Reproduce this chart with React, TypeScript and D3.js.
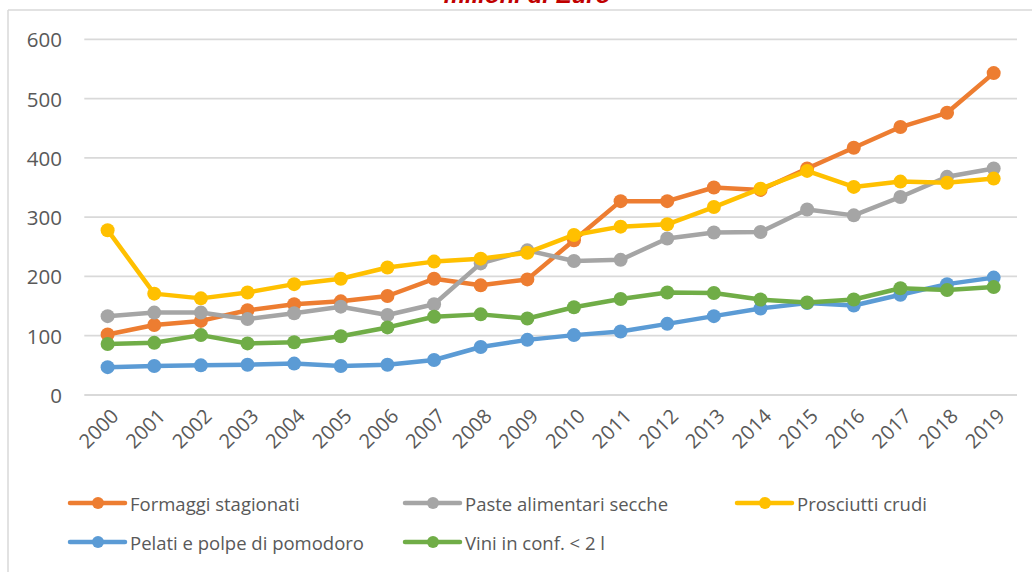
import React from "react";
import * as d3 from "d3";

const years = ["2000","2001","2002","2003","2004","2005","2006","2007","2008","2009","2010","2011","2012","2013","2014","2015","2016","2017","2018","2019"];

const formaggi = [102,118,125,143,153,158,167,196,185,195,261,327,327,350,346,382,417,452,476,543];
const paste = [133,139,139,128,138,149,135,153,222,244,226,228,264,274,275,313,303,334,368,382];
const prosciutti = [278,171,163,173,187,196,215,225,230,240,270,284,288,317,348,378,351,360,358,365];
const pelati = [47,49,50,51,53,49,51,59,81,93,101,107,120,133,146,155,151,169,187,198];
const vini = [86,88,101,87,89,99,114,132,136,129,148,162,173,172,161,156,161,180,177,182];

const seriesNames = ["Formaggi stagionati","Paste alimentari secche","Prosciutti crudi","Pelati e polpe di pomodoro","Vini in conf. < 2 l"];
const seriesValues = [formaggi, paste, prosciutti, pelati, vini];
const seriesColors = ["#ED7D31","#A5A5A5","#FFC000","#5B9BD5","#70AD47"];
const yTicks = [0,100,200,300,400,500,600];
const title = "milioni di Euro";

const legendPos = [[70,503],[405,503],[737,503],[70,542],[405,542]];

export default function App() {
  const W = 1032, H = 572;
  const x = d3.scaleBand<string>().domain(years).range([84.3, 1017]);
  const cx = (yr: string) => (x(yr) as number) + x.bandwidth() / 2;
  const y = d3.scaleLinear().domain([0, 600]).range([395, 39.3]);
  const line = d3.line<number>().x((_, i) => cx(years[i])).y(v => y(v));
  const font = "'Open Sans', sans-serif";
  const txt = "#595959";

  return (
    <svg width={W} height={H} style={{ position: "absolute", left: 0, top: 0, background: "#fff" }}>
      <rect x={0} y={0} width={W} height={H} fill="#fff" />
      <line x1={8} y1={10} x2={W} y2={10} stroke="#D9D9D9" strokeWidth={1.5} />
      <line x1={8} y1={10} x2={8} y2={H} stroke="#D9D9D9" strokeWidth={1.5} />
      <text x={527} y={3} textAnchor="middle" fontFamily="'Liberation Sans', Arial, sans-serif"
        fontSize={24} fontWeight="bold" fontStyle="italic" fill="#C00000">{title}</text>
      {yTicks.map(t => (
        <g key={t}>
          <line x1={84.3} x2={1017} y1={y(t)} y2={y(t)} stroke="#D9D9D9" strokeWidth={1.8} />
          <text x={62} y={y(t)} textAnchor="end" dominantBaseline="central" fontFamily={font} fontSize={20.5} fill={txt}>{t}</text>
        </g>
      ))}
      {years.map(yr => (
        <text key={yr} x={0} y={0} transform={`translate(${cx(yr) + 7},${412}) rotate(-45)`}
          textAnchor="end" dominantBaseline="central" fontFamily={font} fontSize={20} fill={txt}>{yr}</text>
      ))}
      {seriesValues.map((vals, si) => (
        <g key={si}>
          <path d={line(vals) as string} fill="none" stroke={seriesColors[si]} strokeWidth={4.5} strokeLinejoin="round" strokeLinecap="round" />
          {vals.map((v, i) => (
            <circle key={i} cx={cx(years[i])} cy={y(v)} r={7} fill={seriesColors[si]} />
          ))}
        </g>
      ))}
      {seriesNames.map((n, si) => {
        const [lx, ly] = legendPos[si];
        return (
          <g key={n}>
            <line x1={lx} x2={lx + 55} y1={ly} y2={ly} stroke={seriesColors[si]} strokeWidth={4.5} strokeLinecap="round" />
            <circle cx={lx + 28} cy={ly} r={6} fill={seriesColors[si]} />
            <text x={lx + 60} y={ly} dominantBaseline="central" fontFamily={font} fontSize={18.5} fill={txt}>{n}</text>
          </g>
        );
      })}
    </svg>
  );
}
